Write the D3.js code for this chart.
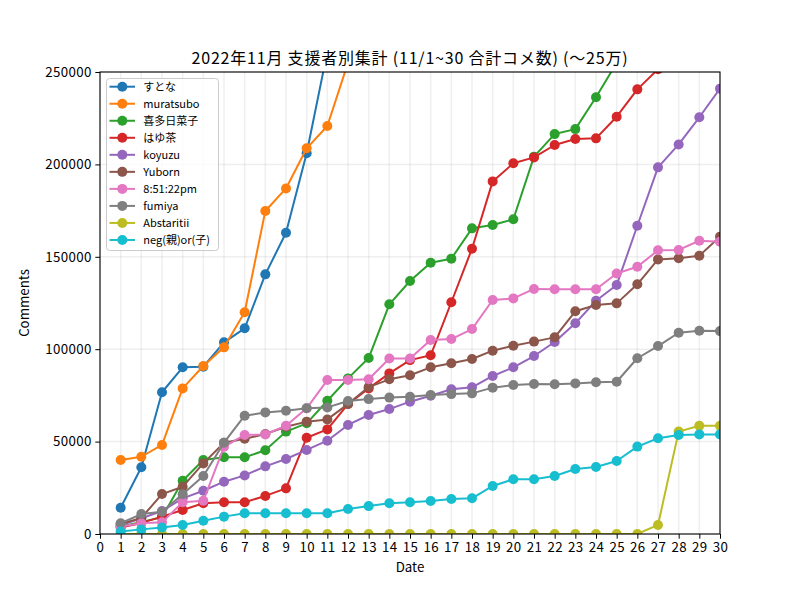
<!DOCTYPE html>
<html><head><meta charset="utf-8">
<script src="https://cdn.jsdelivr.net/npm/d3@7"></script>
<style>
body{margin:0;background:#fff;}
svg{display:block;font-family:"Noto Sans CJK JP","Noto Sans",sans-serif;}
</style></head>
<body>
<svg id="chart" width="800" height="600"></svg>
<script>
const days = [1,2,3,4,5,6,7,8,9,10,11,12,13,14,15,16,17,18,19,20,21,22,23,24,25,26,27,28,29,30];
const names = ["すとな","muratsubo","喜多日菜子","はゆ茶","koyuzu","Yuborn","8:51:22pm","fumiya","Abstaritii","neg(親)or(子)"];
const colors = ["#1f77b4","#ff7f0e","#2ca02c","#d62728","#9467bd","#8c564b","#e377c2","#7f7f7f","#bcbd22","#17becf"];
const sutona = [14200,36100,76700,90200,90500,103700,111300,140500,163000,206000,261000];
const muratsubo = [40000,41800,48200,78800,90900,101000,120000,174800,187000,208700,220800,255000];
const kita = [4000,6500,9000,28800,40000,41500,41500,45300,55400,59900,72100,84200,95200,124300,136900,146800,149000,165400,167200,170300,204200,216400,219100,236300,255000];
const hayu = [3500,6000,9400,13000,16600,17200,17200,20600,24700,52100,56600,70300,78800,86900,94100,96700,125400,154400,190800,200600,203800,210500,213700,214100,225800,240600,251500,253000,253500,256000];
const koyuzu = [4700,8500,12400,19300,23400,28300,31700,36600,40600,45500,50500,59000,64400,67600,71600,74800,78300,79400,85500,90200,96300,103900,114000,126200,134700,166800,198400,210800,225500,241000];
const yuborn = [5400,8700,21600,25600,38200,49400,51500,54100,58000,60800,62000,70300,79500,83700,85900,90200,92400,94700,99200,101900,104100,106400,120500,123900,124800,135100,148600,149200,150600,160900];
const pm = [4000,5800,6300,17200,18000,47200,53600,53900,58600,68000,83300,83300,83700,95000,95000,105000,105500,110900,126600,127500,132600,132400,132400,132400,141000,144600,153500,153700,158700,158200];
const fumiya = [5800,10800,12100,21500,31400,49400,64000,65800,66700,68000,68500,72000,73000,73800,74300,75200,75700,76100,79200,80600,81200,81000,81500,82100,82400,95100,101700,108900,110000,109800];
const abstaritii = [0,0,0,0,0,0,0,0,0,0,0,0,0,0,0,0,0,0,0,0,0,0,0,0,0,0,4900,55400,58600,58600];
const neg = [1300,2500,3500,4900,7200,9400,11200,11200,11200,11200,11200,13500,15100,16600,17200,17900,18900,19300,26000,29600,29600,31400,35200,36300,39500,47300,51800,53600,53900,53900];
const seriesValues = [sutona,muratsubo,kita,hayu,koyuzu,yuborn,pm,fumiya,abstaritii,neg];
const xTicks = d3.range(0,31);
const yTicks = [0,50000,100000,150000,200000,250000];
const title = "2022年11月 支援者別集計 (11/1~30 合計コメ数) (〜25万)";

const svg = d3.select("#chart");
const L=100,R=720,T=72,B=534;
const x = d3.scaleLinear().domain([0,30]).range([L,R]);
const y = d3.scaleLinear().domain([0,250000]).range([B,T]);

svg.append("rect").attr("width",800).attr("height",600).attr("fill","#fff");

// grid
const grid = svg.append("g");
grid.selectAll("line.vx").data(xTicks).join("line")
  .attr("x1",d=>x(d)).attr("x2",d=>x(d)).attr("y1",T).attr("y2",B)
  .attr("stroke","#b0b0b0").attr("stroke-opacity",0.2).attr("stroke-width",1.5);
grid.selectAll("line.hy").data(yTicks).join("line")
  .attr("x1",L).attr("x2",R).attr("y1",d=>y(d)).attr("y2",d=>y(d))
  .attr("stroke","#b0b0b0").attr("stroke-opacity",0.2).attr("stroke-width",1.5);

svg.append("clipPath").attr("id","clip").append("rect")
  .attr("x",L).attr("y",T).attr("width",R-L).attr("height",B-T);

const plot = svg.append("g").attr("clip-path","url(#clip)");
const line = d3.line().x((d,i)=>x(days[i])).y(d=>y(d));
seriesValues.forEach((vals,si)=>{
  const g = plot.append("g");
  g.append("path").attr("d",line(vals)).attr("fill","none")
    .attr("stroke",colors[si]).attr("stroke-width",2).attr("stroke-linejoin","round");
  g.selectAll("circle").data(vals).join("circle")
    .attr("cx",(d,i)=>x(days[i])).attr("cy",d=>y(d)).attr("r",5).attr("fill",colors[si]);
});

// axes
const xAxis = d3.axisBottom(x).tickValues(xTicks).tickSize(4.7).tickPadding(3.5).tickFormat(d3.format("d"));
const gx = svg.append("g").attr("transform",`translate(0,${B})`).call(xAxis);
const yAxis = d3.axisLeft(y).tickValues(yTicks).tickSize(4.7).tickPadding(3.5).tickFormat(d3.format("d"));
const gy = svg.append("g").attr("transform",`translate(${L},0)`).call(yAxis);
[gx,gy].forEach(g=>{
  g.select(".domain").remove();
  g.selectAll(".tick line").attr("stroke","#000").attr("stroke-width",1);
  g.selectAll(".tick text").attr("fill","#000").attr("font-size","13.3px")
   .attr("font-family","'Noto Sans CJK JP',sans-serif").attr("letter-spacing","0.4px");
});

// frame
svg.append("rect").attr("x",L).attr("y",T).attr("width",R-L).attr("height",B-T)
  .attr("fill","none").attr("stroke","#000").attr("stroke-width",1.1);

// labels
svg.append("text").attr("x",(L+R)/2).attr("y",572).attr("text-anchor","middle")
  .attr("font-size","13.3px").text("Date");
svg.append("text").attr("transform",`translate(29,${(T+B)/2}) rotate(-90)`).attr("text-anchor","middle")
  .attr("font-size","13.3px").text("Comments");
svg.append("text").attr("x",(L+R)/2).attr("y",64).attr("text-anchor","middle")
  .attr("font-size","16px").attr("letter-spacing","0.8px").text(title);

// legend
const lg = svg.append("g");
lg.append("rect").attr("x",106.5).attr("y",78.5).attr("width",112).attr("height",172).attr("rx",3)
  .attr("fill","#fff").attr("fill-opacity",0.8).attr("stroke","#cccccc").attr("stroke-width",1);
names.forEach((n,i)=>{
  const yy = 86.7 + i*17.03;
  lg.append("line").attr("x1",109.5).attr("x2",135).attr("y1",yy).attr("y2",yy)
    .attr("stroke",colors[i]).attr("stroke-width",2);
  lg.append("circle").attr("cx",122.3).attr("cy",yy).attr("r",5).attr("fill",colors[i]);
  lg.append("text").attr("x",143.3).attr("y",yy+4).attr("font-size","11px").attr("fill","#000").text(n);
});
</script>
</body></html>
